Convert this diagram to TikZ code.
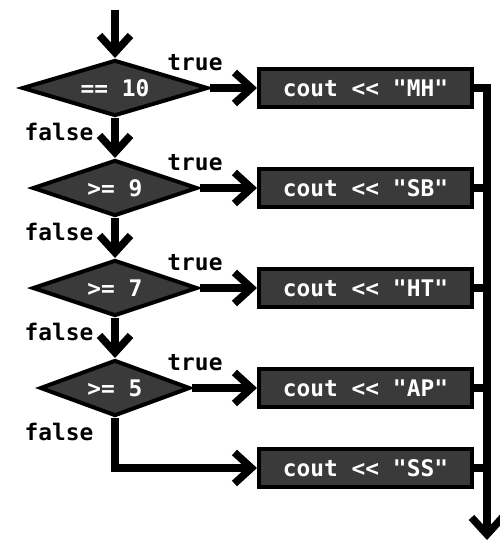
\documentclass[tikz,border=0pt]{standalone}
\usepackage{fontspec}
\setmonofont{DejaVu Sans Mono}
\usepackage{tikz}
\usetikzlibrary{arrows.meta,positioning,shapes.geometric}
\definecolor{boxgray}{HTML}{3A3A3A}
\tikzset{
  test/.style={diamond, aspect=3.3, inner sep=0.5mm, draw, line width=0.8mm, fill=boxgray, text=white, minimum height=11.2mm, font=\ttfamily\bfseries\fontsize{13}{15}\selectfont},
  outbox/.style={draw, line width=0.8mm, fill=boxgray, text=white, minimum height=7.6mm, minimum width=42.6mm, font=\ttfamily\bfseries\fontsize{13}{15}\selectfont},
  lbl/.style={font=\ttfamily\bfseries\fontsize{13}{15}\selectfont, inner sep=0pt},
  flow/.style={-{Straight Barb[length=3.4mm, width=6.2mm]}, line width=1.5mm},
  link/.style={line width=1.5mm}
}
\begin{document}
\begin{tikzpicture}[node distance=8mm and 9.4mm]
\useasboundingbox (-23mm,17.6mm) rectangle (76.8mm,-91.2mm);
\node[test, minimum width=37.2mm] (eq10) {== 10};
\node[test, minimum width=33mm, below=of eq10] (ge9) {>= 9};
\node[test, minimum width=33mm, below=of ge9] (ge7) {>= 7};
\node[test, minimum width=30mm, below=of ge7] (ge5) {>= 5};
\node[outbox, right=of eq10] (mh) {cout << "MH"};
\node[outbox] (sb) at (mh |- ge9) {cout << "SB"};
\node[outbox] (ht) at (mh |- ge7) {cout << "HT"};
\node[outbox] (ap) at (mh |- ge5) {cout << "AP"};
\node[outbox, below=7.6mm of ap] (ss) {cout << "SS"};
\coordinate[above=9.6mm of eq10.north] (start);
\coordinate (done) at (74.4mm,-90.4mm);
% labels
\node[lbl] at ([xshift=-12.4mm, yshift=5mm]mh.west) {true};
\node[lbl] at ([xshift=-12.4mm, yshift=5mm]sb.west) {true};
\node[lbl] at ([xshift=-12.4mm, yshift=5mm]ht.west) {true};
\node[lbl] at ([xshift=-12.4mm, yshift=5mm]ap.west) {true};
\node[lbl] at ([xshift=-11.2mm, yshift=-2.8mm]eq10.south) {false};
\node[lbl] at ([xshift=-11.2mm, yshift=-2.8mm]ge9.south) {false};
\node[lbl] at ([xshift=-11.2mm, yshift=-2.8mm]ge7.south) {false};
\node[lbl] at ([xshift=-11.2mm, yshift=-2.8mm]ge5.south) {false};
% connectors
\draw[flow] (start) -- (eq10);
\draw[flow] (eq10) -- (ge9);
\draw[flow] (ge9) -- (ge7);
\draw[flow] (ge7) -- (ge5);
\draw[flow] (eq10) -- (mh);
\draw[flow] (ge9) -- (sb);
\draw[flow] (ge7) -- (ht);
\draw[flow] (ge5) -- (ap);
\draw[flow] (ge5.south) |- (ss.west);
\draw[flow] (mh.east) -| (done);
\draw[link] (sb.east) -- (sb.east -| done);
\draw[link] (ht.east) -- (ht.east -| done);
\draw[link] (ap.east) -- (ap.east -| done);
\draw[link] (ss.east) -- (ss.east -| done);
\end{tikzpicture}
\end{document}
